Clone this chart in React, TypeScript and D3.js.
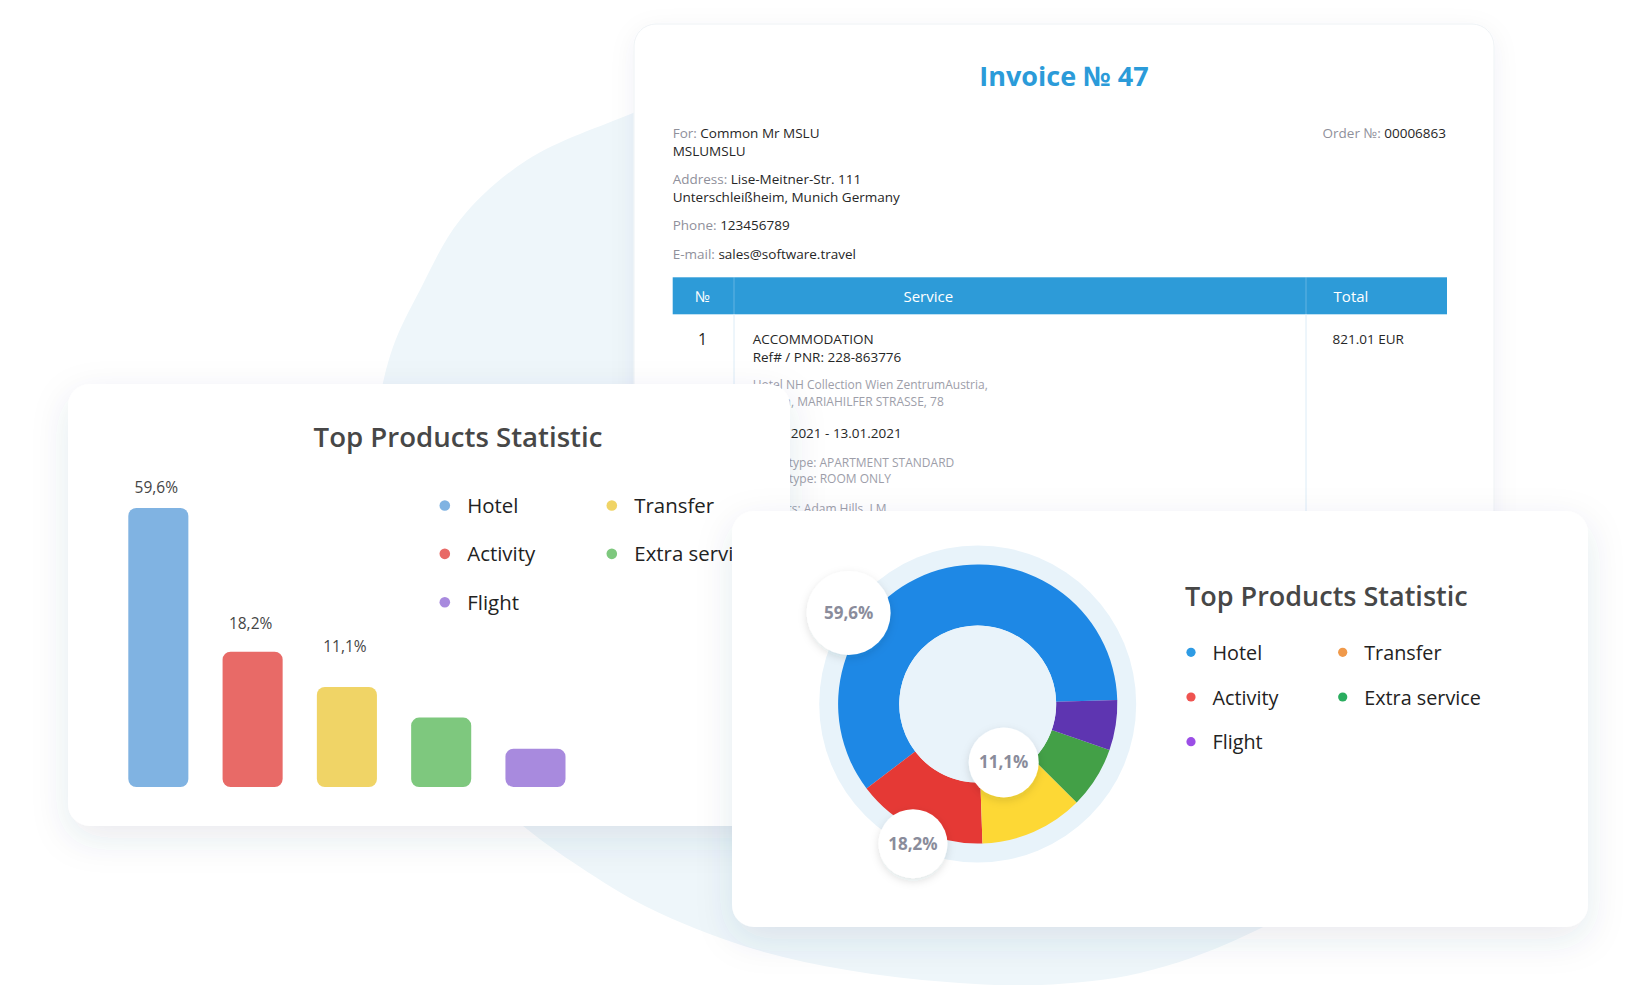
import * as d3 from "d3";

const categories = ["Hotel", "Activity", "Transfer", "Extra service", "Flight"];

// bar card: bar heights (only the first three carry labels)
const barValues = [59.6, 18.2, 11.1, 6.1, 2.3];
const barColors = ["#80b3e2", "#e86a67", "#f0d466", "#7ec87e", "#a88ade"];

// donut card: slice shares as measured on the arcs, badges as printed
const donutShares = [59.9, 15.2, 12.0, 7.1, 5.8];
const donutColors = ["#1e88e5", "#e53935", "#fdd835", "#43a047", "#5e35b1"];
const donutLegendColors = ["#2e9be4", "#ef5350", "#f0994a", "#2aad5f", "#9b4ee6"];
const donutBadges = ["59,6%", "18,2%", "11,1%"];

// legend grid (column, row) per category
const legendCol = [0, 0, 1, 1, 0];
const legendRow = [0, 1, 0, 1, 2];

const FONT = "'Open Sans', 'Noto Sans', sans-serif";
const W = 1636;
const H = 985;

const fmtPct = (v: number) => d3.format(".1f")(v).replace(".", ",") + "%";
const deg = (d: number) => (d * Math.PI) / 180;

// background blob outline (decoration only)
const blobOutline: [number, number][] = [
  [820, 58], [700, 86], [633, 113], [527, 160], [460, 220], [420, 290], [393, 347],
  [378, 410], [372, 490], [382, 590], [412, 695], [462, 772], [523, 826], [580, 867],
  [647, 907], [747, 947], [847, 970], [947, 982], [1040, 985], [1140, 973], [1240, 938],
  [1340, 880], [1440, 770], [1475, 600], [1460, 400], [1400, 230], [1280, 110], [1100, 50], [950, 42],
];

function BarCard() {
  const x = d3.scaleBand<string>().domain(categories).range([128.3, 565.5]).paddingInner(0.363).paddingOuter(0);
  const baseY = 787;
  const h = d3.scalePow().exponent(0.61).domain([0, 59.6]).range([0, 279]);
  const labelY = d3.scaleLinear().domain([0, 59.6]).range([688.8, 493]);
  const colX = [444.8, 611.8];
  const rowY = d3.scaleLinear().domain([0, 2]).range([505.5, 602.2]);
  return (
    <g>
      <rect x={68} y={384} width={722} height={442} rx={22} fill="#fff" filter="url(#cardShadow)" />
      <text x={458} y={446.7} textAnchor="middle" fontFamily={FONT} fontSize={27.6} fontWeight={600} fill="#474747">
        Top Products Statistic
      </text>
      {barValues.map((v, i) => (
        <rect key={categories[i]} x={x(categories[i])} y={baseY - h(v)} width={x.bandwidth()} height={h(v)} rx={8} fill={barColors[i]} />
      ))}
      {barValues.map((v, i) =>
        v > 10 ? (
          <text key={"l" + i} x={(x(categories[i]) as number) + x.bandwidth() / 2 - 2} y={labelY(v)} textAnchor="middle"
            fontFamily={FONT} fontSize={15.5} fill="#454545">
            {fmtPct(v)}
          </text>
        ) : null
      )}
      {categories.map((c, i) => (
        <g key={"lg" + c}>
          <circle cx={colX[legendCol[i]]} cy={rowY(legendRow[i])} r={5.3} fill={barColors[i]} />
          <text x={colX[legendCol[i]] + 22.5} y={rowY(legendRow[i]) + 7.4} fontFamily={FONT} fontSize={20.4} fill="#222">
            {c}
          </text>
        </g>
      ))}
    </g>
  );
}

function DonutCard() {
  const cx = 977.7;
  const cy = 704;
  const start = deg(88.4);
  const pie = d3.pie<number>().sort(null).value((d) => d).startAngle(start).endAngle(start - Math.PI * 2);
  const arcs = pie(donutShares);
  const arc = d3.arc<d3.PieArcDatum<number>>().innerRadius(78.5).outerRadius(139.6);
  const badgeFrac = [0.664, 0.51, 0.51];
  const badgeDist = [158, 154, 64];
  const badgeR = [42, 34.5, 35];
  const colX = [1191, 1342.7];
  const rowY = d3.scaleLinear().domain([0, 2]).range([652.3, 741.7]);
  return (
    <g>
      <rect x={732} y={511} width={856} height={416} rx={22} fill="#fff" filter="url(#cardShadow)" />
      <circle cx={cx} cy={cy} r={158.5} fill="#e8f3fa" />
      <g transform={`translate(${cx},${cy})`}>
        {arcs.map((a, i) => (
          <path key={categories[i]} d={arc(a) as string} fill={donutColors[i]} />
        ))}
        <circle r={78.5} fill="#e9f3fa" />
        {donutBadges.map((b, i) => {
          const a = arcs[i];
          const t = a.startAngle + (a.endAngle - a.startAngle) * badgeFrac[i];
          const bx = badgeDist[i] * Math.sin(t);
          const by = -badgeDist[i] * Math.cos(t);
          return (
            <g key={"b" + i}>
              <circle cx={bx} cy={by} r={badgeR[i]} fill="#fff" filter="url(#badgeShadow)" />
              <text x={bx} y={by + 6} textAnchor="middle" fontFamily={FONT} fontSize={17} fontWeight={700} fill="#8a8c9b">
                {b}
              </text>
            </g>
          );
        })}
      </g>
      <text x={1185} y={605.7} fontFamily={FONT} fontSize={27} fontWeight={600} fill="#474747">
        Top Products Statistic
      </text>
      {categories.map((c, i) => (
        <g key={"dl" + c}>
          <circle cx={colX[legendCol[i]]} cy={rowY(legendRow[i])} r={4.6} fill={donutLegendColors[i]} />
          <text x={colX[legendCol[i]] + 21.5} y={rowY(legendRow[i]) + 7.6} fontFamily={FONT} fontSize={19.8} fill="#222">
            {c}
          </text>
        </g>
      ))}
    </g>
  );
}

function InvoiceCard() {
  const label = "#8f909b";
  const dark = "#262626";
  const grey = "#9d9ea9";
  const fs = 13.5;
  const left = 672.7;
  const col1 = 752.7;
  return (
    <g fontFamily={FONT}>
      <rect x={634} y={24} width={860} height={540} rx={22} fill="#fff" stroke="#eef2f5" filter="url(#softShadow)" />
      <text x={1064} y={86} textAnchor="middle" fontSize={27} fontWeight={700} fill="#2b9bd9">
        Invoice № 47
      </text>
      <text x={left} y={138.3} fontSize={fs} fill={dark}>
        <tspan fill={label}>For: </tspan>
        <tspan fontWeight={500}>Common Mr MSLU</tspan>
      </text>
      <text x={left} y={156} fontSize={fs} fontWeight={500} fill={dark}>MSLUMSLU</text>
      <text x={left} y={184.3} fontSize={fs} fill={dark}>
        <tspan fill={label}>Address: </tspan>Lise-Meitner-Str. 111
      </text>
      <text x={left} y={202.3} fontSize={fs} fill={dark}>Unterschleißheim, Munich Germany</text>
      <text x={left} y={230} fontSize={fs} fill={dark}>
        <tspan fill={label}>Phone: </tspan>123456789
      </text>
      <text x={left} y={259} fontSize={fs} fill={dark}>
        <tspan fill={label}>E-mail: </tspan>sales@software.travel
      </text>
      <text x={1446} y={138.3} textAnchor="end" fontSize={fs} fill={dark}>
        <tspan fill={label}>Order №: </tspan>00006863
      </text>

      <rect x={672.7} y={277.3} width={774.3} height={37} fill="#2d9bd8" />
      <line x1={734} x2={734} y1={277.3} y2={314.3} stroke="#ffffff" strokeOpacity={0.25} />
      <line x1={1306} x2={1306} y1={277.3} y2={314.3} stroke="#ffffff" strokeOpacity={0.25} />
      <line x1={734} x2={734} y1={314.3} y2={560} stroke="#dcecf7" />
      <line x1={1306} x2={1306} y1={314.3} y2={560} stroke="#dcecf7" />
      <text x={702.7} y={301.7} textAnchor="middle" fontSize={15} fontWeight={500} fill="#fff">№</text>
      <text x={928.3} y={301.7} textAnchor="middle" fontSize={15} fontWeight={500} fill="#fff">Service</text>
      <text x={1351} y={301.7} textAnchor="middle" fontSize={15} fontWeight={500} fill="#fff">Total</text>

      <text x={702.7} y={345} textAnchor="middle" fontSize={16} fill={dark}>1</text>
      <text x={col1} y={344} fontSize={fs} fill={dark}>ACCOMMODATION</text>
      <text x={col1} y={362.3} fontSize={fs} fill={dark}>Ref# / PNR: 228-863776</text>
      <text x={col1} y={389} fontSize={12} fill={grey}>Hotel NH Collection Wien ZentrumAustria,</text>
      <text x={col1} y={406} fontSize={12} fill={grey}>Vienna, MARIAHILFER STRASSE, 78</text>
      <text x={col1} y={438.3} fontSize={fs} fill={dark}>12.01.2021 - 13.01.2021</text>
      <text x={col1} y={466.7} fontSize={12} fill={grey}>Room type: APARTMENT STANDARD</text>
      <text x={col1 + 6} y={483.3} fontSize={12} fill={grey}>Meal type: ROOM ONLY</text>
      <text x={col1} y={512.5} fontSize={12} fill={grey}>Tourists: Adam Hills, LM</text>
      <text x={1332.5} y={344} fontSize={fs} fill={dark}>821.01 EUR</text>
    </g>
  );
}

export default function App() {
  const blob = d3.line().curve(d3.curveCatmullRomClosed.alpha(0.5))(blobOutline) as string;
  return (
    <svg width={W} height={H} viewBox={`0 0 ${W} ${H}`} style={{ position: "absolute", left: 0, top: 0, background: "#fff" }}>
      <defs>
        <filter id="cardShadow" x="-10%" y="-15%" width="120%" height="140%">
          <feDropShadow dx={0} dy={12} stdDeviation={18} floodColor="#2f4a63" floodOpacity={0.11} />
        </filter>
        <filter id="softShadow" x="-10%" y="-10%" width="120%" height="130%">
          <feDropShadow dx={0} dy={6} stdDeviation={12} floodColor="#2f4a63" floodOpacity={0.06} />
        </filter>
        <filter id="badgeShadow" x="-50%" y="-50%" width="200%" height="200%">
          <feDropShadow dx={0} dy={3} stdDeviation={4} floodColor="#1d2b3a" floodOpacity={0.13} />
        </filter>
      </defs>
      <path d={blob} fill="#eef6fa" />
      <InvoiceCard />
      <BarCard />
      <DonutCard />
    </svg>
  );
}
